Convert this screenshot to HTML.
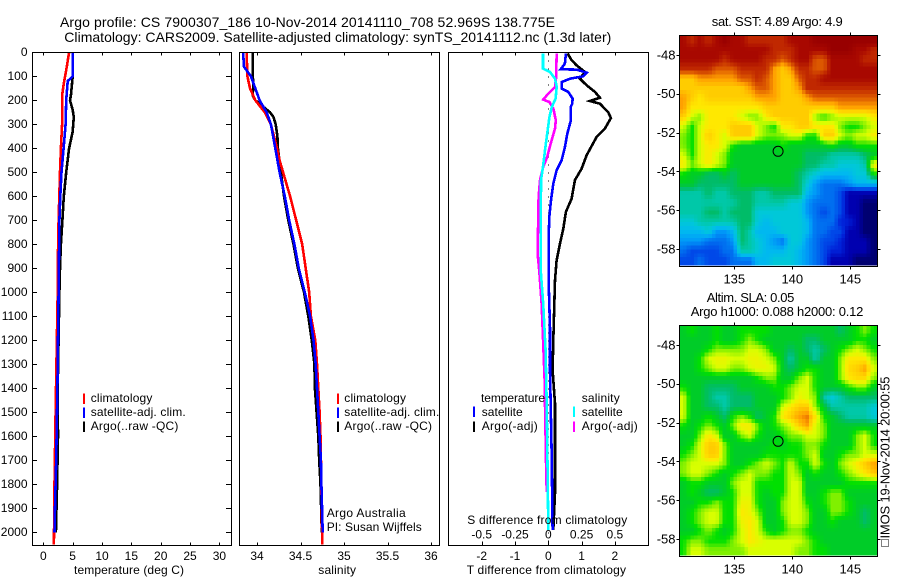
<!DOCTYPE html>
<html>
<head>
<meta charset="utf-8">
<title>Argo profile</title>
<style>
html,body{margin:0;padding:0;background:#fff;width:900px;height:580px;overflow:hidden}
svg{display:block}
text{font-family:"Liberation Sans",sans-serif;fill:#000}
</style>
</head>
<body>
<svg id="fig" width="900" height="580" viewBox="0 0 900 580" xmlns="http://www.w3.org/2000/svg">
<rect width="900" height="580" fill="#fff"/>
<text x="60" y="27" font-size="14" textLength="495" lengthAdjust="spacing">Argo profile: CS 7900307_186 10-Nov-2014 20141110_708 52.969S 138.775E</text>
<text x="64.3" y="42" font-size="14" textLength="547" lengthAdjust="spacing">Climatology: CARS2009. Satellite-adjusted climatology: synTS_20141112.nc (1.3d later)</text>
<text x="711.7" y="26" font-size="13" textLength="131" lengthAdjust="spacing">sat. SST: 4.89 Argo: 4.9</text>
<text x="706.7" y="302" font-size="13" textLength="87.6" lengthAdjust="spacing">Altim. SLA: 0.05</text>
<text x="690.7" y="316" font-size="13" textLength="172.6" lengthAdjust="spacing">Argo h1000: 0.088 h2000: 0.12</text>
<text transform="translate(889.3,538.5) rotate(-90)" font-size="13" textLength="162" lengthAdjust="spacing">IMOS 19-Nov-2014 20:00:55</text>
<rect x="881.5" y="539.5" width="7" height="7" fill="none" stroke="#000" stroke-width="1" stroke-dasharray="1 1" shape-rendering="crispEdges"/>
</svg>
<script>
// ---------- tick labels ----------
const depthTicks = [0,100,200,300,400,500,600,700,800,900,1000,1100,1200,1300,1400,1500,1600,1700,1800,1900,2000];
const tempTicks = [0,5,10,15,20,25,30];
const salTicks = [34,34.5,35,35.5,36];
const tDiffTicks = [-2,-1,0,1,2];
const sDiffTicks = [-0.5,-0.25,0,0.25,0.5];
const lonTicks = [135,140,145];
const latTicks = [-48,-50,-52,-54,-56,-58];

// ---------- profile data: depth (m) and value ----------
const tempClimDepth = [0,60,130,170,300,400,500,700,900,1000,1500,1800,2050];
const tempClim = [4.4,4.0,3.5,3.25,3.2,3.0,2.85,2.6,2.45,2.45,2.1,1.9,1.8];
const tempSatDepth = [0,70,100,120,200,300,400,500,600,700,1000,1400,1700,1900,2000];
const tempSat = [5.0,5.0,5.0,4.15,3.9,3.8,3.45,3.1,2.9,2.75,2.6,2.4,2.2,2.0,1.9];
const tempArgoDepth = [0,100,180,200,240,270,330,400,500,600,700,800,900,1000,1400,1600,1800,2000];
const tempArgo = [5.0,5.0,4.7,4.55,5.0,5.2,5.0,4.4,3.9,3.5,3.25,3.0,2.85,2.75,2.45,2.5,2.35,2.15];

const salClimDepth = [0,100,150,200,250,300,400,450,500,600,700,800,900,1000,1100,1200,1300,1400,1500,1600,1800,2050];
const salClim = [33.88,33.89,33.92,33.98,34.09,34.16,34.23,34.26,34.30,34.38,34.45,34.52,34.56,34.60,34.62,34.67,34.69,34.705,34.72,34.73,34.74,34.75];
const salSatDepth = [0,60,70,100,150,200,250,300,400,500,600,700,800,900,1000,1100,1200,1300,1400,1500,1600,1700,1800,2000];
const salSat = [33.84,33.85,33.87,33.93,33.98,34.03,34.11,34.16,34.21,34.26,34.32,34.37,34.43,34.48,34.55,34.61,34.65,34.675,34.69,34.705,34.72,34.735,34.74,34.755];
const salArgoDepth = [0,100,130,180,200,220,250,270,300,350,400,500,600,700,800,900,1000,1100,1200,1300,1400,1500,1600,1700,1800,2000];
const salArgo = [33.95,33.95,33.96,33.95,33.98,34.05,34.15,34.19,34.215,34.235,34.24,34.275,34.31,34.36,34.42,34.47,34.54,34.59,34.63,34.66,34.665,34.685,34.705,34.715,34.73,34.745];

const tDiffSatDepth = [5,47,71,72,85,100,110,124,151,165,193,214,228,283,339,395,450,492,547,617,686,783,950,1150,1325,1660,1990];
const tDiffSat = [0.53,0.5,0.37,0.85,1.15,1.05,0.65,0.40,0.40,0.6,0.73,0.72,0.67,0.68,0.57,0.5,0.4,0.25,0.15,0.08,0.03,0.01,0.01,0.05,0.05,0.1,0.13];
const tDiffArgoDepth = [5,33,54,82,110,137,165,189,203,214,249,274,318,353,429,485,533,610,665,735,797,867,950,1200,1325,1463,1742,1837,1990];
const tDiffArgo = [0.58,0.7,0.85,1.1,0.95,1.15,1.4,1.55,1.25,1.55,1.8,1.88,1.7,1.45,1.15,1.0,0.8,0.7,0.53,0.45,0.35,0.25,0.2,0.15,0.13,0.2,0.2,0.2,0.15];
const sDiffSatDepth = [5,68,82,110,144,193,228,270,339,408,471,533,908,1047,1242,1463,1742,1990];
const sDiffSat = [-0.04,-0.04,0.013,0.05,0.063,0.055,0.026,0.008,-0.008,-0.025,-0.038,-0.055,-0.057,-0.038,-0.02,-0.012,-0.005,0];
const sDiffArgoDepth = [5,110,144,172,197,207,235,283,318,380,436,478,533,603,838,908,1047,1158,1408,1463,1700,1832];
const sDiffArgo = [0.063,0.058,0.05,0,-0.038,0.008,0.038,0.056,0.05,0.018,-0.008,-0.038,-0.062,-0.073,-0.08,-0.068,-0.05,-0.042,-0.025,-0.025,-0.017,-0.012];

// ---------- map grids: colour level per cell, north to south ----------
const sstLevels = [
[19,18,19,18,19,20,19,19,18,18,18,18,18,19,19,19,20,20,20,20,20,20,20,20],
[19,19,19,19,19,19,19,19,19,19,19,18,18,18,19,19,19,19,20,20,20,19,19,18],
[19,19,19,19,19,18,19,19,19,19,18,18,17,18,19,19,17,17,19,19,19,19,18,18],
[18,18,18,18,17,17,17,18,18,18,18,16,15,16,18,18,17,17,19,19,19,19,19,19],
[15,15,16,16,16,16,16,17,17,18,17,16,15,15,17,18,18,19,19,19,19,19,19,19],
[15,15,15,15,15,15,15,15,16,17,17,16,15,15,16,18,18,18,18,18,18,18,18,18],
[16,15,14,15,15,15,15,15,15,16,16,16,15,15,15,16,17,17,17,17,17,17,17,17],
[16,14,14,14,14,14,14,14,14,14,15,15,15,15,15,15,15,15,15,16,16,16,16,16],
[15,13,12,14,14,14,14,13,12,12,14,15,15,15,15,15,12,11,12,13,13,13,13,14],
[13,11,13,14,14,14,15,15,15,13,12,11,14,14,15,15,14,14,14,12,11,11,12,13],
[12,11,13,15,14,13,15,15,15,13,12,12,12,13,13,11,11,15,15,13,12,13,13,14],
[12,11,13,14,14,13,11,10,10,10,10,10,11,10,10,10,10,10,11,10,10,11,11,11],
[13,11,13,14,13,12,10,10,10,10,10,10,10,10,10,9,9,9,8,8,8,8,9,10],
[14,12,13,14,13,12,10,10,10,10,10,10,10,10,10,9,9,8,8,7,7,7,8,14],
[11,10,10,9,9,10,9,10,10,10,10,10,10,10,9,8,7,6,6,6,6,7,7,11],
[10,10,9,9,9,9,9,10,10,10,10,10,10,10,9,7,5,4,4,4,5,6,6,6],
[8,8,8,9,8,8,9,9,9,8,8,9,9,9,9,6,5,4,4,3,1,1,1,1],
[8,8,8,8,8,8,8,9,9,8,8,8,8,7,7,5,4,4,4,3,1,1,0,0],
[8,8,8,9,9,8,9,9,9,7,7,7,7,7,7,5,4,3,4,3,1,1,0,0],
[7,7,8,8,8,8,8,9,9,7,6,7,7,7,7,6,4,4,4,2,2,1,0,0],
[6,6,6,7,5,5,6,9,8,6,6,6,7,7,7,6,4,4,3,3,1,1,0,0],
[5,5,5,4,4,4,5,9,8,7,6,5,4,7,7,5,4,3,3,2,1,1,1,0],
[4,3,3,3,3,4,4,8,8,7,6,6,6,7,6,5,4,3,2,2,1,1,1,0],
[3,3,4,3,3,3,4,4,4,6,6,7,7,7,6,5,4,3,1,1,1,0,0,0]
];
const slaLevels = [
[10,11,10,10,11,10,10,11,11,11,11,10,10,10,10,10,10,10,10,9,10,11,12,11],
[10,10,10,10,11,10,10,11,12,11,10,10,10,10,10,9,9,10,10,10,10,11,11,10],
[10,10,10,11,12,12,12,12,13,13,12,10,10,9,10,9,8,9,10,11,12,13,12,11],
[10,10,11,13,13.5,13.5,13,13,13.5,13.5,13,12,10,8,10,10,8,10,10,12,14,14,14,12],
[10,10,11,12,13,13,12,12,13,13.5,13.5,13,10,9,10,11,11,10,10,12,14.5,15,16,13],
[10,10,10,10,10,10,10,10,10,11,12,12,10,10,12,13,11,10,10,12,14,14.5,14.5,12],
[11,10,10,9,9,9,9,10,10,10,10,11,11,12,13,13,11,10,10,10,11,12,12,10],
[13,10,10,9,8,8,9,9,9,10,10,10,11,12,13.5,13,12,8,7,8,9,9,9,9],
[13,10,10,9,9,8,9,9,9,10,10,10,13,14,15,15,12,10,8,8,8,8,8,7],
[13,10,10,11,10,9,11,12,11,9,10,11,14,15,16,16.5,14,11,10,9,8,8,8,7],
[11,10,11,12,11,10,12,14,14,12,10,11,12,13,15,16,13,12,10,10,10,10,10,10],
[10,10,12,14,13,10,10,12,13,11,10,10,11,12,12,13,13,12,10,10,10,12,13,11],
[10,11,13,15,15,12,10,10,10,10,10,11,10,11,11,12,12,11,10,10,10,12,13,11],
[11,12,13,15,15,12,10,10,10,10,11,11,11,11,11,12,13,10,10,11,12,12,13,13],
[12,13,13,13,13,12,10,10,11,12,13,12,11,13,11,11,13,11,10,12,13,14,15,16],
[12,13,13,12,11,10,11,12,13,12,12,11,11,13,12,10,11,10,10,11,12,13,14,15],
[10,11,11,10,10,10,12,13,13,11,11,11,11,13,13,10,10,10,10,10,11,11,11,11],
[10,11,10,9,9,10,11,13,13,11,10,11,11,13,13,10,10,11,12,12,10,10,10,10],
[10,10,11,11,12,11,11,13.5,13.5,11,10,10,12,13,13,11,10,11,12,12,11,10,10,10],
[10,11,12,13,13,11,11,14,13.5,12,10,10,12,13,13,12,10,10,12,12,11,10,9,10],
[10,11,12,13,13,11,11,13.5,14,13,10,10,11,13,13,12,10,10,11,10,10,10,9,10],
[10,10,11,12,11,10,11,13,14,13,11,10,11,12,12,11,10,10,10,10,10,10,10,10],
[11,12,12,11,11,11,12,13,14,13.5,13,13,13,13,13,12,11,10,10,10,10,10,10,10],
[11,13,13,12,12,12,12,12,13,13,13,13,13,13,12,12,11,11,10,10,10,10,10,10]
];
const floatLon = 138.775;
const floatLat = -52.969;

// ---------- colour ramp indexed by level ----------
const ramp = ['#000070','#0000b0','#0020d8','#0048e8','#0070f0','#0098f8','#00b8f0','#00c8d8','#00c8a8','#00bc68','#00cc28','#00e000','#80f000','#d8ff00','#ffe800','#ffcc00','#ffa000','#dc5800','#c02800','#a80800','#980000'];

const NS = 'http://www.w3.org/2000/svg';
const fig = document.getElementById('fig');

function add(tag, name, attrs, parent) {
  const el = document.createElementNS(NS, tag);
  for (const k in attrs) el.setAttribute(k, attrs[k]);
  
  
  (parent || fig).appendChild(el);
  return el;
}
function label(name, str, x, y, size, anchor, len) {
  const attrs = {x: x, y: y, 'font-size': size, 'text-anchor': anchor || 'start'};
  if (len) { attrs.textLength = len; attrs.lengthAdjust = 'spacing'; }
  const t = add('text', name, attrs);
  t.textContent = str;
  return t;
}
function tick(name, x1, y1, x2, y2) {
  add('line', name, {x1: x1, y1: y1, x2: x2, y2: y2, stroke: '#000', 'stroke-width': 1, 'shape-rendering': 'crispEdges'});
}
function frame(name, l, t, r, b) {
  add('rect', name, {x: l, y: t, width: r - l, height: b - t, fill: 'none', stroke: '#000', 'stroke-width': 1, 'shape-rendering': 'crispEdges'});
}
function hexRgb(h) {
  return [parseInt(h.slice(1, 3), 16), parseInt(h.slice(3, 5), 16), parseInt(h.slice(5, 7), 16)];
}
function levelColor(lv) {
  const v = Math.max(0, Math.min(ramp.length - 1.001, lv));
  const i = Math.floor(v), f = v - i;
  const a = hexRgb(ramp[i]), b = hexRgb(ramp[i + 1]);
  return 'rgb(' + a.map((c, k) => Math.round(c + (b[k] - c) * f)).join(',') + ')';
}

// ---------- profile axes ----------
const TOP = 52.5, BOT = 545.5;
const yDepth = d => 52.3 + 0.24 * d;
const xTemp = v => 43.3 + 5.87 * v;
const xSal = v => 257 + 87 * (v - 34);
const xTDiff = v => 548.3 + 33.3 * v;
const xSDiff = v => 548.3 + 133.2 * v;

function profile(name, depths, values, xf, color) {
  const pts = depths.map((d, i) => xf(values[i]).toFixed(1) + ',' + yDepth(d).toFixed(1)).join(' ');
  add('polyline', name, {points: pts, fill: 'none', stroke: color, 'stroke-width': 2.6, 'shape-rendering': 'crispEdges'});
}
function swatch(name, x, y, color) {
  add('line', name, {x1: x, y1: y, x2: x, y2: y + 10.5, stroke: color, 'stroke-width': 2, 'shape-rendering': 'crispEdges'});
}

// Panel 1 temperature
tempTicks.forEach(v => {
  tick('temperature-tick-top', Math.round(xTemp(v)) + .5, TOP, Math.round(xTemp(v)) + .5, TOP + 3);
  tick('temperature-tick-bottom', Math.round(xTemp(v)) + .5, BOT, Math.round(xTemp(v)) + .5, BOT - 3);
  label('temperature-tick-label', String(v), xTemp(v), 560, 12, 'middle');
});
depthTicks.forEach(d => {
  const y = Math.round(yDepth(d)) + .5;
  tick('depth-tick-left', 32.5, y, 37, y);
  tick('depth-tick-right', 231.5, y, 226, y);
  label('depth-tick-label', String(d), 27.5, yDepth(d) + 3.5, 12, 'end');
});
profile('temperature-argo-line', tempArgoDepth, tempArgo, xTemp, '#000');
profile('temperature-climatology-line', tempClimDepth, tempClim, xTemp, '#f00');
profile('temperature-satellite-line', tempSatDepth, tempSat, xTemp, '#00f');
frame('temperature-panel-frame', 32.5, TOP, 231.5, BOT);
swatch('legend-swatch-climatology', 84, 393.5, '#f00');
swatch('legend-swatch-satellite-adj', 84, 407.5, '#00f');
swatch('legend-swatch-argo', 84, 421.5, '#000');
label('legend-label-climatology', 'climatology', 90.7, 402, 12, 'start', 61.7);
label('legend-label-satellite-adj', 'satellite-adj. clim.', 90.7, 416, 12, 'start', 95);
label('legend-label-argo', 'Argo(..raw -QC)', 90.7, 430, 12, 'start', 87.7);
label('temperature-axis-title', 'temperature (deg C)', 74, 574, 12, 'start', 110);

// Panel 2 salinity
salTicks.forEach(v => {
  tick('salinity-tick-top', Math.round(xSal(v)) + .5, TOP, Math.round(xSal(v)) + .5, TOP + 3);
  tick('salinity-tick-bottom', Math.round(xSal(v)) + .5, BOT, Math.round(xSal(v)) + .5, BOT - 3);
  label('salinity-tick-label', String(v), xSal(v), 560, 12, 'middle');
});
profile('salinity-argo-line', salArgoDepth, salArgo, xSal, '#000');
profile('salinity-climatology-line', salClimDepth, salClim, xSal, '#f00');
profile('salinity-satellite-line', salSatDepth, salSat, xSal, '#00f');
frame('salinity-panel-frame', 239.5, TOP, 439.5, BOT);
swatch('salinity-legend-swatch-climatology', 338, 393.5, '#f00');
swatch('salinity-legend-swatch-satellite-adj', 338, 407.5, '#00f');
swatch('salinity-legend-swatch-argo', 338, 421.5, '#000');
label('salinity-legend-label-climatology', 'climatology', 344.3, 402, 12, 'start', 61.7);
label('salinity-legend-label-satellite-adj', 'satellite-adj. clim.', 344.3, 416, 12, 'start', 95);
label('salinity-legend-label-argo', 'Argo(..raw -QC)', 344.3, 430, 12, 'start', 87.7);
label('argo-australia-note', 'Argo Australia', 326.7, 517, 12, 'start', 79);
label('pi-note', 'PI: Susan Wijffels', 326.7, 531, 12, 'start', 95);
label('salinity-axis-title', 'salinity', 318.3, 574, 12, 'start', 37.7);

// Panel 3 differences
add('line', 'zero-difference-line', {x1: 548.5, y1: TOP, x2: 548.5, y2: BOT, stroke: '#000', 'stroke-width': 1, 'stroke-dasharray': '1 7', 'shape-rendering': 'crispEdges'});
tDiffTicks.forEach(v => {
  tick('t-difference-tick-top', Math.round(xTDiff(v)) + .5, TOP, Math.round(xTDiff(v)) + .5, TOP + 3);
  tick('t-difference-tick-bottom', Math.round(xTDiff(v)) + .5, BOT, Math.round(xTDiff(v)) + .5, BOT - 4);
  label('t-difference-tick-label', String(v), xTDiff(v), 560, 12, 'middle');
});
profile('t-difference-argo-line', tDiffArgoDepth, tDiffArgo, xTDiff, '#000');
profile('t-difference-satellite-line', tDiffSatDepth, tDiffSat, xTDiff, '#00f');
profile('s-difference-argo-line', sDiffArgoDepth, sDiffArgo, xSDiff, '#f0f');
profile('s-difference-satellite-line', sDiffSatDepth, sDiffSat, xSDiff, '#0ff');
frame('difference-panel-frame', 448.5, TOP, 648.5, BOT);
sDiffTicks.forEach(v => {
  label('s-difference-tick-label', String(v), xSDiff(v), 538.5, 12, 'middle');
});
label('s-difference-axis-title', 'S difference from climatology', 467.3, 524, 12, 'start', 160);
label('t-difference-axis-title', 'T difference from climatology', 466.7, 574, 12, 'start', 159.3);
label('diff-legend-temperature-heading', 'temperature', 481, 402, 12, 'start', 64);
label('diff-legend-label-t-satellite', 'satellite', 481.7, 416, 12, 'start', 41);
label('diff-legend-label-t-argo', 'Argo(-adj)', 481.7, 430, 12, 'start', 56);
label('diff-legend-salinity-heading', 'salinity', 581.7, 402, 12, 'start', 38);
label('diff-legend-label-s-satellite', 'satellite', 581.7, 416, 12, 'start', 41);
label('diff-legend-label-s-argo', 'Argo(-adj)', 581.7, 430, 12, 'start', 56);
swatch('diff-legend-swatch-t-satellite', 474, 406.5, '#00f');
swatch('diff-legend-swatch-t-argo', 474, 421.5, '#000');
swatch('diff-legend-swatch-s-satellite', 574, 406.5, '#0ff');
swatch('diff-legend-swatch-s-argo', 574, 421.5, '#f0f');

// ---------- maps ----------
const xLon = lon => 734.3 + (lon - 135) * 11.6;
const latToOffset = lat => 19.4 + (-48 - lat) * 19.4;
const MAP_L = 679.5, MAP_R = 877.5;

function sampled(levels, u, v) {
  const rows = levels.length, cols = levels[0].length;
  const fx = Math.max(0, Math.min(cols - 1.001, u * cols - .5));
  const fy = Math.max(0, Math.min(rows - 1.001, v * rows - .5));
  const i = Math.floor(fx), j = Math.floor(fy), a = fx - i, b = fy - j;
  return levels[j][i] * (1 - a) * (1 - b) + levels[j][i + 1] * a * (1 - b) +
         levels[j + 1][i] * (1 - a) * b + levels[j + 1][i + 1] * a * b;
}
function drawMap(prefix, levels, top, dataBottom, bottom, cw, ch) {
  const cols = Math.round((MAP_R - MAP_L) / cw), rows = Math.round((dataBottom - top) / ch);
  const w = (MAP_R - MAP_L) / cols, h = (dataBottom - top) / rows;
  for (let r = 0; r < rows; r++) {
    for (let c = 0; c < cols; c++) {
      const lv = sampled(levels, (c + .5) / cols, (r + .5) / rows);
      const cell = document.createElementNS(NS, 'rect');
      cell.setAttribute('x', (MAP_L + c * w).toFixed(2));
      cell.setAttribute('y', (top + r * h).toFixed(2));
      cell.setAttribute('width', (w + .4).toFixed(2));
      cell.setAttribute('height', (h + .4).toFixed(2));
      cell.setAttribute('fill', levelColor(lv));
      cell.setAttribute('shape-rendering', 'crispEdges');
      
      
      fig.appendChild(cell);
    }
  }
  frame(prefix + '-map-frame', MAP_L, top, MAP_R, bottom);
  lonTicks.forEach(lon => {
    const x = Math.round(xLon(lon)) + .5;
    tick(prefix + '-lon-tick-top', x, top, x, top - 3);
    tick(prefix + '-lon-tick-bottom', x, bottom, x, bottom + 3);
    label(prefix + '-lon-tick-label', String(lon), xLon(lon), bottom + 17, 13, 'middle');
  });
  latTicks.forEach(lat => {
    const yv = top + latToOffset(lat);
    const y = Math.round(yv) + .5;
    tick(prefix + '-lat-tick-left', MAP_L, y, MAP_L - 3, y);
    tick(prefix + '-lat-tick-right', MAP_R, y, MAP_R + 3, y);
    label(prefix + '-lat-tick-label', String(lat), 675.5, yv + 4.5, 13, 'end');
  });
  add('circle', prefix + '-float-position-marker', {
    cx: xLon(floatLon), cy: top + latToOffset(floatLat), r: 5,
    fill: 'none', stroke: '#000', 'stroke-width': 1
  });
}
drawMap('sst', sstLevels, 35.5, 265, 266.5, 3.6, 3.87);
drawMap('sla', slaLevels, 325.5, 555, 556.5, 3.6, 3.87);
</script>
</body>
</html>
